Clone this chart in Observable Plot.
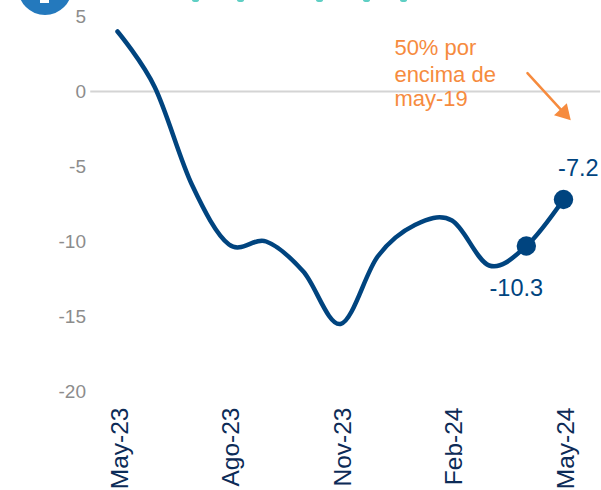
<!DOCTYPE html>
<html>
<head>
<meta charset="utf-8">
<script src="https://cdn.jsdelivr.net/npm/d3@7"></script>
<script src="https://cdn.jsdelivr.net/npm/@observablehq/plot@0.6"></script>
<style>
html,body{margin:0;padding:0;background:#fff;overflow:hidden}
#wrap{position:relative;width:601px;height:490px;overflow:hidden}
#badge{position:absolute;left:18px;top:-39px;width:54px;height:54px;border-radius:50%;background:#2479bd}
#stem{position:absolute;left:40px;top:0;width:9px;height:2.5px;background:#fff}
.frag{position:absolute;top:-2px;width:7px;height:4px;border-radius:50%;background:#5fcfc4}
svg{display:block;font-family:"Liberation Sans",Arial,sans-serif}
</style>
</head>
<body>
<div id="wrap"><div id="badge"></div><div id="stem"></div>
<div class="frag" style="left:192px"></div><div class="frag" style="left:237px"></div><div class="frag" style="left:316px"></div><div class="frag" style="left:363px"></div><div class="frag" style="left:400px"></div></div>
<script>
const months = ["May-23","Jun-23","Jul-23","Ago-23","Sep-23","Oct-23","Nov-23","Dic-23","Ene-24","Feb-24","Mar-24","Abr-24","May-24"];
const values = [4.0,0.3,-6.2,-10.2,-10.0,-12.0,-15.5,-11.0,-8.9,-8.6,-11.6,-10.3,-7.2];
const tickIdx = [0,3,6,9,12];
const yTicks = [5,0,-5,-10,-15,-20];
const noteLines = ["50% por","encima de","may-19"];
const noteY = [2.87,1.13,-0.5];
const noteX = 7.45;
const arrowX = [11.03,12.01];
const arrowY = [1.23,-1.43];
const callouts = [{i:11,dx:-0.27,dy:-2.8,label:"-10.3"},{i:12,dx:0.4,dy:2.1,label:"-7.2"}];
const navy = "#00447f", orange = "#f68b3e";
const series = values.map((v,i)=>({i,v}));

const chart = Plot.plot({
  width:601,height:490,
  marginLeft:0,marginRight:0,marginTop:0,marginBottom:85,
  style:{fontFamily:'"Liberation Sans",Arial,sans-serif',background:"transparent",overflow:"visible"},
  x:{type:"linear",domain:[0,12],range:[117,563]},
  y:{domain:[-20,5],range:[391,16]},
  marks:[
    Plot.axisY({ticks:yTicks,tickFormat:d=>String(d),tickSize:0,anchor:"left",label:null,fontSize:19,color:"#8c8c8c",textStroke:"none",dx:85.5,tickPadding:0}),
    Plot.axisX({ticks:tickIdx,tickFormat:d=>months[d],tickRotate:-90,tickSize:0,tickPadding:2,dx:2.5,label:null,fontSize:24.5,color:"#0c2b57"}),
    Plot.ruleY([0],{x1:-0.72,x2:13,stroke:"#d4d4d4",strokeWidth:2}),
    Plot.line(series,{x:"i",y:"v",curve:"cardinal",tension:0,stroke:navy,strokeWidth:4.5}),
    Plot.dot(series.filter(d=>d.i>=11),{x:"i",y:"v",r:9.7,fill:navy}),
    Plot.text(callouts,{x:d=>d.i+d.dx,y:d=>values[d.i]+d.dy,text:"label",fontSize:23.5,fill:navy}),
    Plot.text(noteLines,{x:()=>noteX,y:(d,i)=>noteY[i],text:d=>d,textAnchor:"start",fontSize:22,fill:orange}),
    Plot.line(arrowX.map((x,i)=>({x,y:arrowY[i]})),{x:"x",y:"y",stroke:orange,strokeWidth:2.5}),
    Plot.dot([{x:arrowX[1],y:arrowY[1]}],{x:"x",y:"y",symbol:"triangle",r:6.5,fill:orange,rotate:137})
  ]
});
document.getElementById("wrap").appendChild(chart);
</script>
</body>
</html>
